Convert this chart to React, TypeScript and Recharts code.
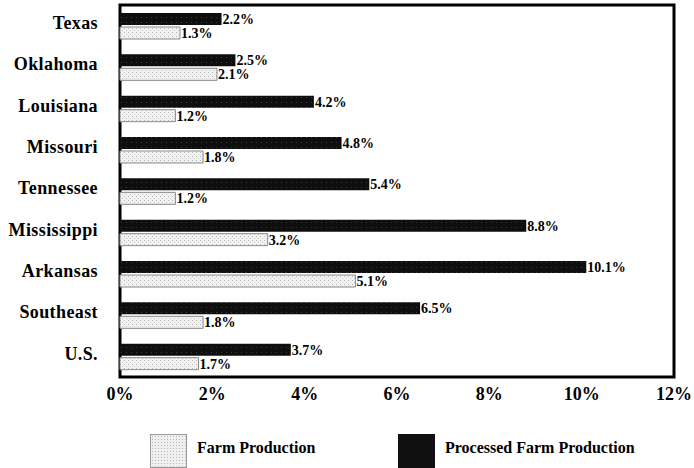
import React from 'react';
import { BarChart, Bar, XAxis, YAxis, ReferenceArea, LabelList } from 'recharts';

const categories = ['Texas', 'Oklahoma', 'Louisiana', 'Missouri', 'Tennessee', 'Mississippi', 'Arkansas', 'Southeast', 'U.S.'];
const processedFarm = [2.2, 2.5, 4.2, 4.8, 5.4, 8.8, 10.1, 6.5, 3.7];
const farm = [1.3, 2.1, 1.2, 1.8, 1.2, 3.2, 5.1, 1.8, 1.7];
const xTicks = [0, 2, 4, 6, 8, 10, 12];

const data = categories.map((c, i) => ({ name: c, processed: processedFarm[i], farm: farm[i] }));

const FONT = '"Liberation Serif", "Times New Roman", serif';
const fmt = (v: any) => `${Number(v).toFixed(1)}%`;

export default function App() {
  return (
    <div style={{ position: 'absolute', left: 0, top: 0, width: 694, height: 468, background: '#fff', fontFamily: FONT }}>
      <svg width={0} height={0} style={{ position: 'absolute' }}>
        <defs>
          <pattern id="stipple" width={4} height={4} patternUnits="userSpaceOnUse">
            <rect width={4} height={4} fill="#f2f2f2" />
            <rect x={0} y={0} width={1} height={1} fill="#b5b5b5" />
            <rect x={2} y={2} width={1} height={1} fill="#c8c8c8" />
          </pattern>
          <pattern id="dark" width={5} height={5} patternUnits="userSpaceOnUse">
            <rect width={5} height={5} fill="#0e0e0e" />
            <rect x={1} y={2} width={1} height={1} fill="#3a3a3a" />
          </pattern>
        </defs>
      </svg>
      <BarChart
        width={694}
        height={468}
        data={data}
        layout="vertical"
        margin={{ top: 5, right: 20, bottom: 61, left: 0 }}
        barSize={12}
        barGap={2}
      >
        <XAxis
          type="number"
          domain={[0, 12]}
          ticks={xTicks}
          tickFormatter={(v: number) => `${v}%`}
          axisLine={false}
          tickLine={false}
          tickSize={0}
          tickMargin={10}
          height={30}
          tick={{ fill: '#000', fontSize: 18, fontWeight: 'bold', fontFamily: FONT }}
        />
        <YAxis
          type="category"
          dataKey="name"
          width={120}
          axisLine={false}
          tickLine={false}
          tickSize={0}
          tickMargin={22}
          tick={{ fill: '#000', fontSize: 18, fontWeight: 'bold', fontFamily: FONT, dy: -3, letterSpacing: 0.4 }}
        />
        <ReferenceArea x1={0} x2={12} fill="none" stroke="#000" strokeWidth={3} ifOverflow="visible" />
        <Bar dataKey="processed" fill="url(#dark)" isAnimationActive={false}>
          <LabelList dataKey="processed" position="right" offset={1} formatter={fmt}
            style={{ fill: '#000', fontSize: 14, fontWeight: 'bold', fontFamily: FONT }} />
        </Bar>
        <Bar dataKey="farm" fill="url(#stipple)" stroke="#8a8a8a" strokeWidth={1} isAnimationActive={false}>
          <LabelList dataKey="farm" position="right" offset={1} formatter={fmt}
            style={{ fill: '#000', fontSize: 14, fontWeight: 'bold', fontFamily: FONT }} />
        </Bar>
      </BarChart>
      <div style={{ position: 'absolute', left: 150, top: 434, width: 37, height: 34, border: '1px solid #999', boxSizing: 'border-box', backgroundColor: '#f0f0f0', backgroundImage: 'radial-gradient(#b8b8b8 0.7px, transparent 0.8px)', backgroundSize: '3px 3px' }} />
      <div style={{ position: 'absolute', left: 197, top: 439, fontSize: 16, fontWeight: 'bold', color: '#000', whiteSpace: 'nowrap' }}>Farm Production</div>
      <div style={{ position: 'absolute', left: 398, top: 434, width: 37, height: 34, background: '#101010' }} />
      <div style={{ position: 'absolute', left: 445, top: 439, fontSize: 16, fontWeight: 'bold', color: '#000', whiteSpace: 'nowrap' }}>Processed Farm Production</div>
    </div>
  );
}
